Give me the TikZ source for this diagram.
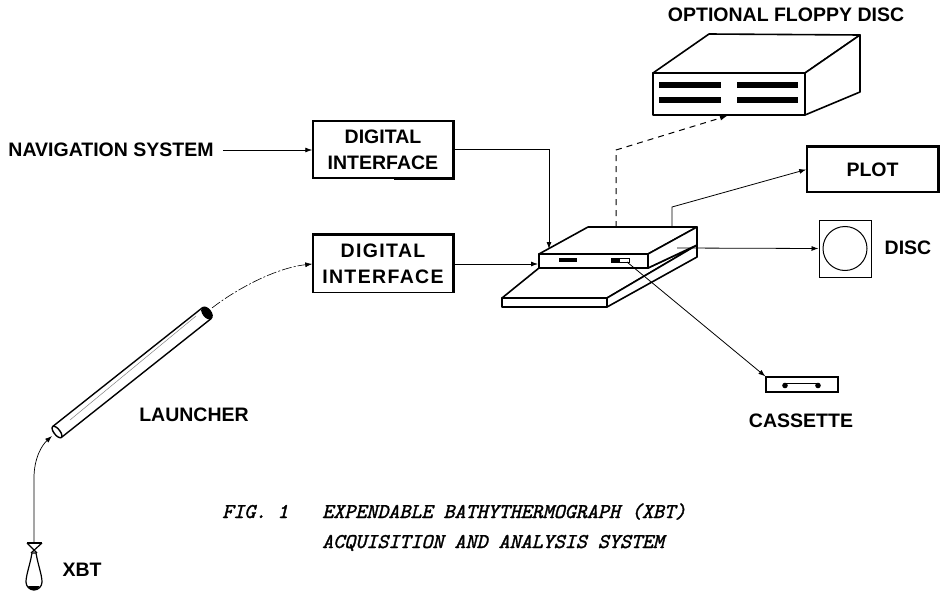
\documentclass[tikz,border=0pt]{standalone}
\usepackage{fontspec}
\newfontfamily\labfont{Liberation Sans}
\newfontfamily\capfont{Latin Modern Mono}[FakeBold=1.6]
\usetikzlibrary{arrows.meta}
\begin{document}
\begin{tikzpicture}[x=1pt,y=-1pt,
  lab/.style={font=\labfont\bfseries\fontsize{19.5}{26}\selectfont, inner sep=0pt},
  conn/.style={line width=0.8pt, -{Latex[length=7pt,width=5pt]}},
  dbox/.style={draw, line width=1.5pt, lab, align=center, minimum width=140pt, minimum height=57pt},
  heavy/.style={line width=3pt},
  unit/.style={draw, line width=1.6pt, fill=white, line join=round},
  slotbar/.style={fill=black},
  capf/.style={font=\capfont\itshape\fontsize{21}{25}\selectfont, inner sep=0pt, anchor=base west}
]
\useasboundingbox (0,0) rectangle (946,594);

% ---------- labels and boxes ----------
\node[lab, inner xsep=9pt] (nav) at (111,150) {NAVIGATION SYSTEM};
\node[dbox] (di1) at (383,149.5) {DIGITAL\\INTERFACE};
\node[dbox, font=\labfont\bfseries\fontsize{19.5}{26}\selectfont\addfontfeatures{LetterSpace=7}] (di2) at (383,264) {DIGITAL\\INTERFACE};
\draw[heavy] (di1.north east) -- (di1.south east) -- ([xshift=-60pt]di1.south east);
\draw[heavy] (di2.north west) -- (di2.north east) -- (di2.south east);

\node[lab] (flab) at (786,15) {OPTIONAL FLOPPY DISC};
\node[draw, line width=1.5pt, lab, minimum width=131pt, minimum height=45pt] (plot) at (872.5,169.5) {PLOT};
\draw[heavy] (plot.north west) -- (plot.north east) -- (plot.south east);

\node[draw, line width=1pt, minimum width=52pt, minimum height=57pt, inner sep=0pt] (discbox) at (845,248.5) {};
\draw[line width=1pt] (discbox.center) circle (22);
\node[lab] (disclab) at (908,248) {DISC};

\node[draw, line width=1.2pt, minimum width=72pt, minimum height=15pt, inner sep=0pt] (cas) at (802,384.5) {};
\fill (785,385.5) circle (2.8);
\fill (818,385.5) circle (2.8);
\draw[line width=1pt] (785,383) -- (818,383);
\node[lab] (caslab) at (801,421) {CASSETTE};

\node[lab] (llab) at (194,415) {LAUNCHER};
\node[lab] (xlab) at (82,570) {XBT};

% ---------- floppy disc unit ----------
\draw[unit] (653,73) -- (709,34) -- (860,35) -- (805,73) -- cycle;
\draw[unit] (805,73) -- (860,35) -- (860,92) -- (805,115) -- cycle;
\draw[unit] (653,73) rectangle (805,115);
\fill[slotbar] (659,82) rectangle (721,88);
\fill[slotbar] (737,82) rectangle (798,88);
\fill[slotbar] (659,97) rectangle (721,103);
\fill[slotbar] (737,97) rectangle (798,103);
\coordinate (fin) at (727,116);

% ---------- computer ----------
\draw[unit] (502,298) -- (539,268) -- (648,268) -- (697,245) -- (607,298) -- cycle;
\draw[unit] (607,298) -- (697,245) -- (697,257) -- (607,307) -- cycle;
\draw[unit] (502,298) rectangle (607,307);
\draw[unit] (539,254) -- (588,227) -- (697,227) -- (648,254) -- cycle;
\draw[unit] (648,254) -- (697,227) -- (697,245) -- (648,268) -- cycle;
\draw[unit] (539,254) rectangle (648,268);
\fill[slotbar] (559,258) rectangle (577,262);
\draw[line width=1pt] (611,258) rectangle (629,262);
\fill (612,258.5) rectangle (620,261.5);

\coordinate (cin1) at (549,249);
\coordinate (cin2) at (538,264);
\coordinate (cfl) at (616,227);
\coordinate (cfb) at (616,150);
\coordinate (cpl) at (672,227);
\coordinate (cpb) at (672,207);
\coordinate (cdi) at (677,248);
\coordinate (cca) at (627,262);

% ---------- launcher ----------
\draw[line width=1.4pt] (61.3,437.5) -- (211.3,318.5);
\draw[line width=1.4pt] (52.7,426.5) -- (202.7,307.5);
\draw[line width=0.5pt, gray] (70,420) -- (196,316);
\draw[line width=1.4pt, fill=white, rotate around={38.4:(57,432)}] (57,432) ellipse (3 and 7);
\fill[rotate around={38.4:(207,313)}] (207,313) ellipse (4.5 and 7.5);
\coordinate (ltop) at (212,308);
\coordinate (lbot) at (52,436);

% ---------- XBT probe ----------
\draw[line width=1.2pt, line join=round] (27,543) -- (42,543);
\draw[line width=1.2pt] (27,543) -- (37,553);
\draw[line width=1.2pt] (42,543) -- (31,553);
\draw[line width=1.2pt, fill=white] (32,553) .. controls (30,565) and (26,575) .. (26,582)
  arc (180:0:8) .. controls (42,575) and (38,565) .. (36,553) -- cycle;
\fill (28,586) arc (160:20:6.2) -- cycle;
\coordinate (xtop) at (34,543);

% ---------- connectors ----------
\draw[conn] (nav.east) -- (di1.west |- nav.east);
\draw[conn] (di1.east) -| (cin1);
\draw[conn] (di2.east) -- (cin2);
\draw[conn, line width=1pt, dash pattern=on 6pt off 5pt] (cfl) -- (cfb) -- (fin);
\draw[conn] (cpl) -- (cpb) -- (plot.west);
\draw[conn] (cdi) -- (discbox.west);
\draw[conn] (cca) -- (cas.north west);
\draw[conn, line width=0.6pt, dash pattern=on 10pt off 2pt on 2pt off 2pt] (ltop) .. controls (235,290) and (275,268) .. (di2.west);
\draw[conn, line width=0.7pt] (xtop) -- (34,478) .. controls (34,458) and (42,445) .. (lbot);

% ---------- caption ----------
\node[capf] (fig) at (222,518) {FIG. 1};
\node[capf] (cap1) at (322,518) {EXPENDABLE BATHYTHERMOGRAPH (XBT)};
\node[capf] (cap2) at (322,548) {ACQUISITION AND ANALYSIS SYSTEM};
\end{tikzpicture}
\end{document}
